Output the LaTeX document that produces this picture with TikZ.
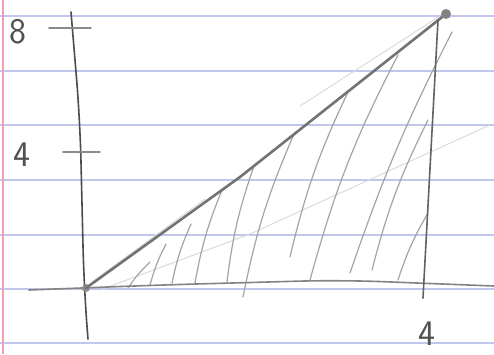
\documentclass[tikz,border=0pt]{standalone}
\usepackage{xcolor}
\usepackage{tikz}
\usetikzlibrary{arrows.meta,positioning}
\definecolor{ruleblue}{RGB}{192,198,236}
\definecolor{marginred}{RGB}{240,160,180}
\definecolor{pencil}{RGB}{90,90,90}

\begin{document}
\begin{tikzpicture}[
  x=1pt, y=-1pt,
  every node/.style={font=\sffamily\fontsize{36}{36}\selectfont, text=pencil!90!black},
  rule/.style={ruleblue, line width=1.4pt},
  axisline/.style={pencil!85!black, line width=1.6pt, line cap=round, rounded corners=40pt},
  hypline/.style={pencil!85, line width=2.6pt, line cap=round},
  hatch/.style={pencil!55, line width=1.2pt, line cap=round},
  faint/.style={pencil!22, line width=1pt, line cap=round}
]
% ── Paper ─────────────────────────────────────────────────────────────────
\fill[white] (0,0) rectangle (494,354);
\useasboundingbox (0,0) rectangle (494,354);
\foreach \yy in {16,71,125,180,235,289,343}
  \draw[rule] (0,\yy) -- (494,\yy);
\draw[marginred, line width=2.6pt] (3,0) -- (3,354);

% ── Key points ────────────────────────────────────────────────────────────
\coordinate (O) at (86,288);
\coordinate (P) at (446,14);
\coordinate (F) at (423,298);

% ── Faint strokes ─────────────────────────────────────────────────────────
\draw[faint] (100,290) -- (250,234) -- (490,125);
\draw[faint] (92,282) -- (205,199);
\draw[faint] (300,106) -- (440,16);

% ── Hatching ──────────────────────────────────────────────────────────────
\draw[hatch] (128,288) to[bend left=6] (150,262);
\draw[hatch] (150,285) to[bend left=6] (166,244);
\draw[hatch] (172,283) to[bend left=6] (191,224);
\draw[hatch] (195,283) to[bend left=6] (222,190);
\draw[hatch] (227,282) to[bend left=6] (254,166);
\draw[hatch] (243,297) to[bend left=6] (294,134);
\draw[hatch] (290,257) to[bend left=6] (348,92);
\draw[hatch] (310,280) to[bend left=6] (398,55);
\draw[hatch] (350,273) to[bend left=4] (452,32);
\draw[hatch] (372,270) to[bend left=6] (428,120);
\draw[hatch] (398,280) to[bend left=6] (428,213);

% ── Axes and ticks ────────────────────────────────────────────────────────
\draw[axisline] (71,12) -- (80,120) -- (84,288) -- (88,339);
\draw[axisline, pencil!75] (29,290) -- (160,285) -- (340,280) -- (494,286);
\draw[axisline, pencil!70] (49,28) -- (91,28);
\draw[axisline, pencil!70] (63,152) -- (100,152);
\fill[pencil!70] (O) circle (4);

% ── Triangle ──────────────────────────────────────────────────────────────
\draw[hypline] (O) -- (240,177) -- (P);
\draw[axisline, pencil!95] (438,20) -- (F);
\fill[pencil!75] (P) circle (5);

% ── Labels ────────────────────────────────────────────────────────────────
\node (lbl8) at (18,32) {8};
\node (lbl4y) at (22,155) {4};
\node (lbl4x) at (427,334) {4};

\end{tikzpicture}
\end{document}
